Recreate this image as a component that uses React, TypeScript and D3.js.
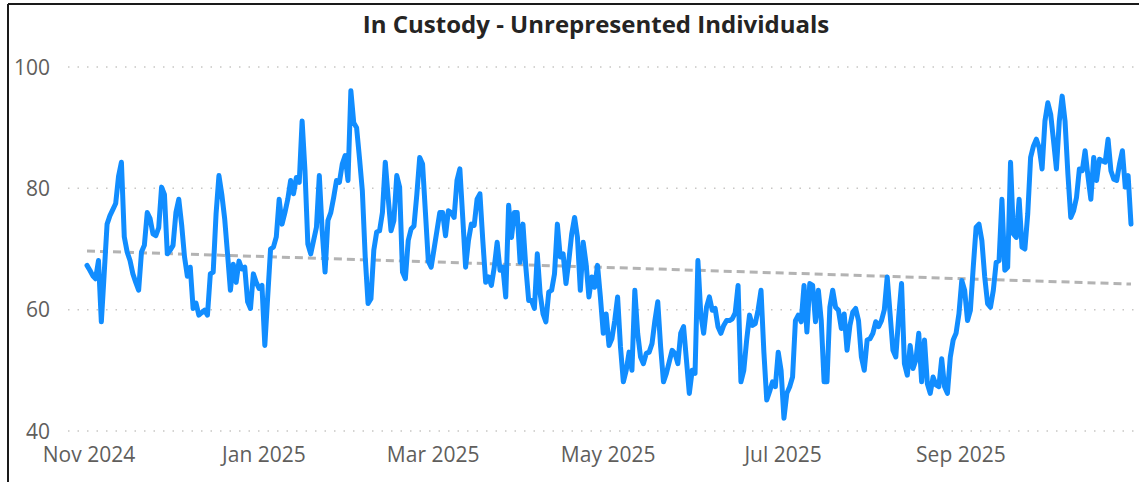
import React from "react";
import * as d3 from "d3";

const title = "In Custody - Unrepresented Individuals";
const startDate = "2024-11-01";
// daily values, 2024-11-01 .. 2025-10-31
const values: number[] = [
  67.3, 66.5, 65.6, 65.1, 68.1, 58, 66, 74.1, 75.5, 76.5,
  77.5, 82, 84.3, 72, 69.5, 68.1, 65.9, 64.5, 63.2, 69.5,
  70.6, 76, 75, 72.5, 72.2, 73.5, 80.2, 79, 69.2, 69.8,
  70.6, 76, 78.2, 74, 68.7, 65.5, 67, 60.2, 61.1, 59.1,
  59.5, 59.9, 59.1, 65.9, 66.2, 75.8, 82.1, 79, 75, 69.2,
  63.2, 67.5, 64.5, 68, 66.7, 67, 61.3, 60.2, 65.9, 64.5,
  63.5, 64, 54.1, 62.1, 70, 70.3, 72, 78.2, 74.1, 76,
  78.2, 81.3, 79.1, 81.8, 81, 91.1, 82.9, 70.8, 69.2, 71.4,
  73.6, 82.1, 73, 66.2, 74.7, 76, 78.5, 81.3, 81, 84,
  85.4, 81.3, 96.1, 90.8, 90, 85, 79.6, 68.7, 61, 61.8,
  69.8, 72.8, 73, 76, 84.3, 78.5, 73, 74.7, 82.1, 80.2,
  66.2, 65.1, 71.4, 73.3, 73.8, 79, 85.1, 84, 76, 68,
  67, 70, 73, 76, 76, 72.2, 76.3, 76, 75.2, 81.3,
  83.2, 75.2, 67, 71.4, 74.1, 73.9, 78.2, 79.1, 71.4, 64.5,
  65.4, 64, 67, 71.1, 66.5, 67, 62.1, 77.2, 71.9, 76,
  76, 67.8, 74.1, 67, 61.5, 61.5, 60.2, 69.2, 62.6, 59.3,
  58, 62.9, 63.2, 65.9, 74.1, 68.7, 69.2, 64.3, 68.1, 72.5,
  75.2, 71.9, 63.2, 71.1, 67.6, 62.1, 65.4, 63.7, 67.3, 62.1,
  56.1, 59.3, 54.1, 55.2, 58.2, 62.1, 53.9, 48.1, 50, 53,
  50, 63.2, 56.1, 52.2, 51.1, 52.8, 53, 54.4, 58.2, 61.3,
  53.9, 48.1, 49.5, 51.4, 53.3, 52.8, 51.1, 56.1, 57.2, 51.7,
  46.2, 50, 49.5, 68.1, 59.3, 56.1, 60.4, 62.1, 59.9, 60.2,
  57.2, 56.1, 57.4, 58.2, 58.2, 58.5, 59.5, 64, 48.1, 50,
  55, 59.1, 57.4, 57.7, 60, 63.2, 53, 45.1, 46.5, 48.1,
  47.3, 53, 50, 42.1, 46.2, 47.3, 48.9, 58.2, 59.1, 58,
  64, 56.3, 64.3, 64, 58, 63.2, 58.2, 48.1, 48.1, 60.4,
  63.2, 60.4, 59.9, 56.9, 59.3, 53.3, 57.4, 59.6, 60.2, 58.2,
  52.2, 50, 55, 55.2, 56.1, 58, 57.2, 58.2, 60, 65.4,
  59.3, 53.3, 52.2, 58.8, 64.3, 51.1, 49.2, 54.1, 50.3, 51.7,
  56.1, 48.1, 55, 47.8, 46.2, 48.9, 47.6, 47.3, 51.9, 47.3,
  46.2, 52.2, 55, 56.1, 59.3, 64.8, 63.2, 58.2, 59.9, 67,
  73.6, 74.1, 71.4, 65.4, 61, 60.4, 63.2, 67.8, 68.1, 78.2,
  66.5, 67, 84.3, 72.5, 71.9, 78.2, 70.3, 70, 75.8, 85.1,
  87, 88.1, 86.7, 83.2, 91.1, 94.1, 92.2, 87.8, 83.2, 91.1,
  95.2, 91.1, 82.4, 75.2, 76.3, 78.5, 83.2, 82.9, 86.2, 82,
  78.2, 85.1, 81.3, 84.8, 84.5, 84.3, 88.1, 82.9, 81.5, 81.3,
  84, 86.2, 80.2, 82.1, 74.1,
];
const yTicks = [40, 60, 80, 100];
const xTickDates = ["2024-11-01", "2025-01-01", "2025-03-01", "2025-05-01", "2025-07-01", "2025-09-01"];

const W = 1139;
const H = 482;

export default function App() {
  const parse = d3.timeParse("%Y-%m-%d");
  const start = parse(startDate) as Date;
  const data = values.map((v, i) => ({ date: d3.timeDay.offset(start, i), value: v }));
  const x = d3
    .scaleTime()
    .domain([data[0].date, data[data.length - 1].date])
    .range([87, 1131]);
  const y = d3.scaleLinear().domain([40, 100]).range([431, 67]);

  const line = d3
    .line<{ date: Date; value: number }>()
    .x((d) => x(d.date))
    .y((d) => y(d.value))
    .curve(d3.curveLinear);

  // linear regression trend
  const n = data.length;
  const xs = data.map((_, i) => i);
  const mx = d3.mean(xs) as number;
  const my = d3.mean(values) as number;
  let sxy = 0;
  let sxx = 0;
  xs.forEach((xi, i) => {
    sxy += (xi - mx) * (values[i] - my);
    sxx += (xi - mx) * (xi - mx);
  });
  const slope = sxy / sxx;
  const icpt = my - slope * mx;
  const trend = [
    { date: data[0].date, value: icpt },
    { date: data[n - 1].date, value: icpt + slope * (n - 1) },
  ];

  const fmt = d3.timeFormat("%b %Y");
  const font = "'Open Sans', 'Segoe UI', sans-serif";

  return (
    <svg
      width={W}
      height={H}
      style={{ position: "absolute", left: 0, top: 0, background: "#fff" }}
    >
      <rect x={0} y={0} width={W} height={H} fill="#fff" />
      {/* frame */}
      <line x1={8} y1={4} x2={W} y2={4} stroke="#1a1a1a" strokeWidth={2} />
      <line x1={8} y1={4} x2={8} y2={H} stroke="#1a1a1a" strokeWidth={2} />
      <text
        x={596}
        y={33}
        textAnchor="middle"
        fontFamily={font}
        fontWeight={700}
        fontSize={24}
        fill="#252423"
      >
        {title}
      </text>
      {/* grid */}
      {yTicks.map((t) => (
        <g key={t}>
          <line
            x1={68}
            x2={W}
            y1={y(t)}
            y2={y(t)}
            stroke="#C8C6C4"
            strokeWidth={1.5}
            strokeDasharray="1.5,8"
          />
          <text
            x={50}
            y={y(t)}
            dy="0.36em"
            textAnchor="end"
            fontFamily={font}
            fontSize={21}
            fill="#605E5C"
          >
            {t}
          </text>
        </g>
      ))}
      {xTickDates.map((s) => {
        const dt = parse(s) as Date;
        return (
          <text
            key={s}
            x={x(dt) + 2}
            y={462}
            textAnchor="middle"
            fontFamily={font}
            fontSize={21}
            fill="#605E5C"
          >
            {fmt(dt)}
          </text>
        );
      })}
      <path
        d={line(trend) as string}
        fill="none"
        stroke="#B3B3B3"
        strokeWidth={3}
        strokeDasharray="8,5"
      />
      <path
        d={line(data) as string}
        fill="none"
        stroke="#118DFF"
        strokeWidth={5}
        strokeLinejoin="round"
        strokeLinecap="round"
      />
    </svg>
  );
}
